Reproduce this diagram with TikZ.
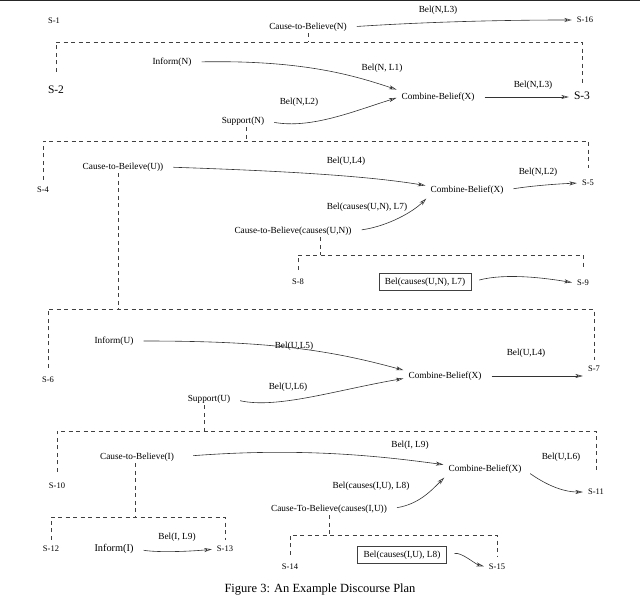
\documentclass[tikz,border=0pt]{standalone}
\usepackage{fontspec}
\setmainfont{Liberation Serif}
\usetikzlibrary{arrows.meta}

\begin{document}
\begin{tikzpicture}[x=1pt, y=-1pt,
    txt/.style={inner sep=2pt, font=\fontsize{9.3}{11}\selectfont},
    sname/.style={inner sep=2pt, font=\fontsize{8.5}{10}\selectfont},
    bigname/.style={inner sep=2pt, font=\fontsize{11.5}{13}\selectfont},
    boxed/.style={txt, draw=black!75, line width=0.6pt, inner xsep=6pt, inner ysep=4.5pt},
    arr/.style={-{Stealth[open, length=7.5pt, width=4pt, inset=2pt]}, draw=black!80, line width=0.6pt, shorten <=8pt, shorten >=3pt},
    tree/.style={draw=black!75, line width=0.6pt, dash pattern=on 4pt off 3.5pt}]

    \useasboundingbox (0,0) rectangle (640,599);
    \fill[black!85] (0,0) rectangle (640,1.5);

    % S-1 to S-16
    \node[sname] (s1) at (54,21) {S-1};
    \node[txt] (ctbN) at (308,27) {Cause-to-Believe(N)};
    \node[sname] (s16) at (585,20) {S-16};
    \node[txt] (lbNLa) at (438,10) {Bel(N,L3)};
    \draw[arr] (ctbN.east) .. controls +(60,-4) and +(-90,0) .. (s16.west);

    % S-2 to S-3
    \coordinate (barA) at (0,42);
    \node[bigname] (s2) at (56,90) {S-2};
    \node[bigname] (s3) at (582,96) {S-3};
    \draw[tree, shorten <=12pt, shorten >=7pt] (s2.north) |- (s3.north |- barA) -- (s3.north);
    \draw[tree] (ctbN.south) -- (ctbN.south |- barA);
    \node[txt] (infN) at (172,62) {Inform(N)};
    \node[txt] (supN) at (243,121) {Support(N)};
    \node[txt] (cbA) at (438,97) {Combine-Belief(X)};
    \node[txt] (lbNLb) at (382,68) {Bel(N, L1)};
    \node[txt] (lbNLc) at (299,102) {Bel(N,L2)};
    \node[txt] (lbNLd) at (533,85) {Bel(N,L3)};
    \draw[arr] (infN.east) .. controls +(110,-2) and +(-45,-15) .. (cbA.north west);
    \draw[arr] (supN.east) .. controls +(45,8) and +(-45,14) .. (cbA.west);
    \draw[arr] (cbA.east) -- (cbA.east -| s3.west);

    % S-4 to S-5
    \coordinate (barB) at (0,141);
    \coordinate (tN) at ([xshift=3pt]supN.south);
    \node[sname] (s4) at (43,190) {S-4};
    \node[sname] (s5) at (588,183) {S-5};
    \draw[tree, shorten <=5pt, shorten >=10pt] (s4.north) |- (s5.north |- barB) -- (s5.north);
    \draw[tree] (tN) -- (tN |- barB);
    \node[txt] (ctbU) at (123,167) {Cause-to-Beileve(U))};
    \node[txt] (cbB) at (467,190) {Combine-Belief(X)};
    \node[txt] (ctbUN) at (293,231) {Cause-to-Believe(causes(U,N))};
    \node[txt] (lbULa) at (346,161) {Bel(U,L4)};
    \node[txt] (lbNLe) at (538,172) {Bel(N,L2)};
    \node[txt] (lbUNL) at (367,207) {Bel(causes(U,N), L7)};
    \draw[arr] (ctbU.east) .. controls +(120,4) and +(-60,-10) .. ([yshift=4pt]cbB.west);
    \draw[arr] (cbB.east) .. controls +(25,-4) and +(-25,1) .. (s5.west);
    \draw[arr] (ctbUN.east) .. controls +(35,-5) and +(-15,15) .. (cbB.south west);

    % S-8 to S-9
    \coordinate (barC) at (0,255);
    \coordinate (tUN) at ([xshift=27pt]ctbUN.south);
    \node[sname] (s8) at (298,282) {S-8};
    \node[sname] (s9) at (583,283) {S-9};
    \draw[tree, shorten <=7pt, shorten >=8pt] (s8.north) |- (s9.north |- barC) -- (s9.north);
    \draw[tree] (tUN) -- (tUN |- barC);
    \node[boxed] (bxUN) at (425,282) {Bel(causes(U,N), L7)};
    \draw[arr] (bxUN.east) .. controls +(35,-9) and +(-30,-5) .. (s9.west);

    % S-6 to S-7
    \coordinate (barD) at (0,309);
    \coordinate (tU) at ([xshift=-5pt]ctbU.south);
    \node[sname] (s6) at (48,380) {S-6};
    \node[sname] (s7) at (594,369) {S-7};
    \draw[tree, shorten <=7pt, shorten >=4pt] (s6.north) |- (s7.north |- barD) -- (s7.north);
    \draw[tree] (tU) -- (tU |- barD);
    \node[txt] (infU) at (114,341) {Inform(U)};
    \node[txt] (supU) at (209,399) {Support(U)};
    \node[txt] (cbC) at (445,376) {Combine-Belief(X)};
    \node[txt] (lbULb) at (294,346) {Bel(U,L5)};
    \node[txt] (lbULc) at (288,387) {Bel(U,L6)};
    \node[txt] (lbULd) at (526,353) {Bel(U,L4)};
    \draw[arr] (infU.east) .. controls +(130,0) and +(-80,-22) .. ([yshift=5pt]cbC.west);
    \draw[arr] (supU.east) .. controls +(45,10) and +(-70,12) .. ([yshift=-2pt]cbC.west);
    \draw[arr] (cbC.east) -- (cbC.east -| s7.west);

    % S-10 to S-11
    \coordinate (barE) at (0,431);
    \coordinate (tSU) at ([xshift=-5pt]supU.south);
    \node[sname] (s10) at (57,486) {S-10};
    \node[sname] (s11) at (596,492) {S-11};
    \draw[tree, shorten <=9pt, shorten >=14pt] (s10.north) |- (s11.north |- barE) -- (s11.north);
    \draw[tree] (tSU) -- (tSU |- barE);
    \node[txt] (ctbI) at (137,457) {Cause-to-Believe(I)};
    \node[txt] (cbD) at (485,469) {Combine-Belief(X)};
    \node[txt] (ctbIU) at (329,509) {Cause-To-Believe(causes(I,U))};
    \node[txt] (lbILa) at (410,445) {Bel(I, L9)};
    \node[txt] (lbULe) at (561,457) {Bel(U,L6)};
    \node[txt] (lbIUL) at (371,486) {Bel(causes(I,U), L8)};
    \draw[arr, shorten <=17pt] (ctbI.east) .. controls +(130,-10) and +(-60,-8) .. ([yshift=4pt]cbD.west);
    \draw[arr] (cbD.east) .. controls +(20,14) and +(-25,0) .. (s11.west);
    \draw[arr] (ctbIU.east) .. controls +(30,-5) and +(-15,15) .. (cbD.south west);

    % S-12 to S-13
    \coordinate (barF) at (0,517);
    \coordinate (tI) at ([xshift=-2pt]ctbI.south);
    \node[sname] (s12) at (51,549) {S-12};
    \node[sname] (s13) at (225,549) {S-13};
    \draw[tree, shorten <=4pt, shorten >=4pt] (s12.north) |- (s13.north |- barF) -- (s13.north);
    \draw[tree] (tI) -- (tI |- barF);
    \node[txt, font=\fontsize{10.3}{12}\selectfont] (infI) at (114,549) {Inform(I)};
    \node[txt] (lbILb) at (177,537) {Bel(I, L9)};
    \draw[arr] (infI.east) .. controls +(25,4) and +(-20,2) .. (s13.west);

    % S-14 to S-15
    \coordinate (barG) at (0,535);
    \node[sname] (s14) at (290,567) {S-14};
    \node[sname] (s15) at (497,567) {S-15};
    \draw[tree, shorten <=7pt, shorten >=5pt] (s14.north) |- (s15.north |- barG) -- (s15.north);
    \draw[tree] (ctbIU.south) -- (ctbIU.south |- barG);
    \node[boxed] (bxIU) at (402,555) {Bel(causes(I,U), L8)};
    \draw[arr] (bxIU.east) .. controls +(15,-3) and +(-12,-3) .. (s15.west);

    \node[font=\fontsize{12.5}{15}\selectfont] (cap) at (320,590) {Figure 3: An Example Discourse Plan};
\end{tikzpicture}
\end{document}
